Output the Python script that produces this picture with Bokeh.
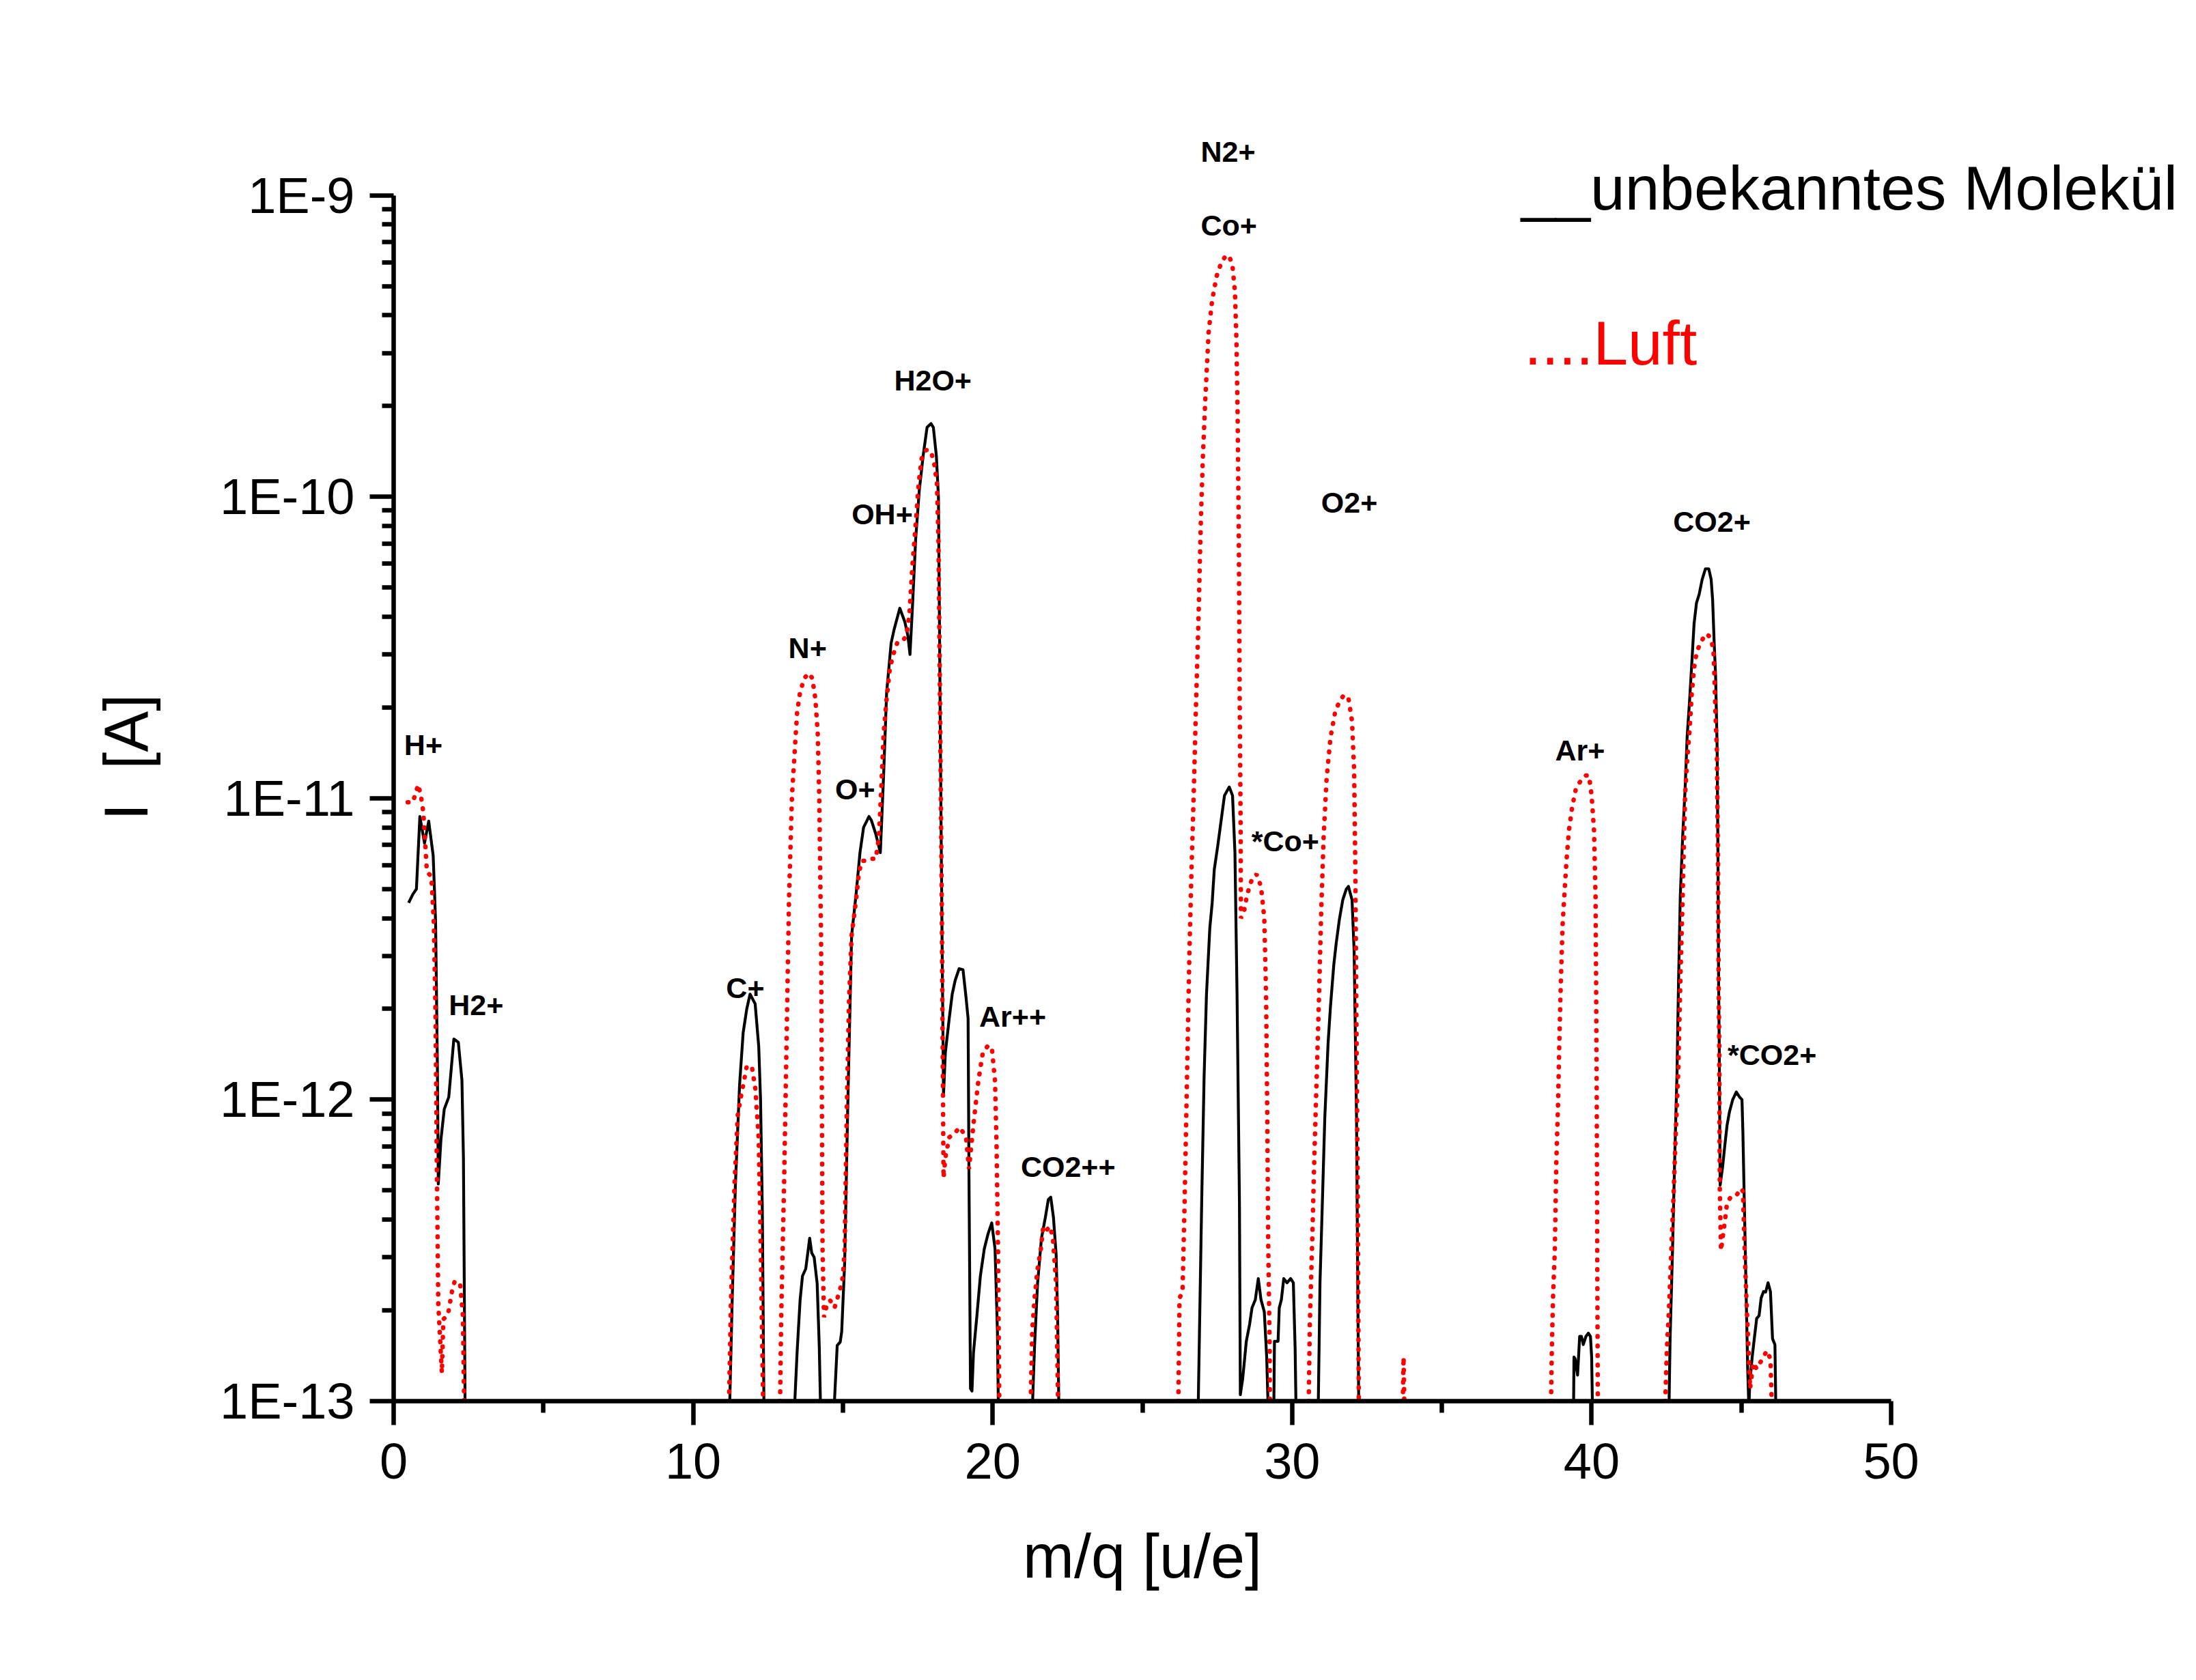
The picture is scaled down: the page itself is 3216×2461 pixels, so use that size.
import math
from bokeh.plotting import figure
from bokeh.models import Range1d, FixedTicker, CustomJSTickFormatter, Label, LinearAxis, LogAxis
from bokeh.embed import file_html
from bokeh.resources import INLINE

NAN = float("nan")

# ---- series: unknown molecule (black, solid) ----
mol_x = [0.50, 0.64, 0.76, 0.875, 1.03, 1.17, 1.32, 1.40, 1.46, 1.49, 1.58, 1.69, 1.84, 2.01, 2.16, 2.28, 2.33, 2.39, NAN,
         11.20, 11.30, 11.41, 11.55, 11.67, 11.79, 11.90, 12.07, 12.19, 12.25, 12.31, 12.37, NAN,
         13.35, 13.47, 13.57, 13.65, 13.76, 13.89, 13.96, 14.04, 14.14, 14.21, 14.27, NAN,
         14.67, 14.81, 14.91, 14.96, 15.06, 15.16, 15.29, 15.44, 15.57, 15.69, 15.87, 15.95, 16.10, 16.25, 16.36, 16.46,
         16.61, 16.71, 16.90, 17.07, 17.17, 17.24, 17.32, 17.43, 17.55, 17.68, 17.81, 17.94, 18.02, 18.12, 18.19, 18.22,
         18.26, 18.32, 18.36, 18.42, 18.55, 18.65, 18.75, 18.88, 19.01, 19.11, 19.18, 19.21, 19.26, 19.31, 19.36, 19.47,
         19.59, 19.72, 19.85, 19.97, 20.08, 20.16, 20.20, NAN,
         21.30, 21.40, 21.50, 21.63, 21.76, 21.86, 21.94, 22.03, 22.12, 22.17, 22.22, NAN,
         26.85, 26.91, 26.98, 27.06, 27.14, 27.25, 27.33, 27.40, 27.52, 27.63, 27.74, 27.90, 28.01, 28.09, 28.16, 28.24,
         28.27, 28.35, 28.47, 28.58, 28.66, 28.77, 28.87, 28.96, 29.07, 29.15, 29.22, NAN,
         29.38, 29.41, 29.53, 29.57, 29.64, 29.72, 29.83, 29.95, 30.04, 30.10, 30.14, NAN,
         30.86, 30.93, 31.01, 31.09, 31.20, 31.28, 31.39, 31.47, 31.58, 31.69, 31.81, 31.88, 32.00, 32.07, 32.11, 32.15,
         32.19, 32.23, NAN,
         39.39, 39.41, 39.45, 39.53, 39.60, 39.66, 39.72, 39.81, 39.89, 39.96, 40.00, 40.04, NAN,
         42.57, 42.62, 42.70, 42.77, 42.85, 42.90, 42.96, 43.04, 43.12, 43.19, 43.27, 43.34, 43.42, 43.50, 43.59, 43.69,
         43.80, 43.91, 43.99, 44.04, 44.09, 44.14, 44.19, 44.22, 44.24, 44.26, 44.29, 44.37, 44.45, 44.52, 44.60, 44.71,
         44.83, 44.94, 45.02, 45.05, 45.09, 45.13, 45.17, 45.21, 45.25, 45.28, 45.36, 45.43, 45.51, 45.59, 45.66, 45.74,
         45.81, 45.89, 45.97, 46.04, 46.12, 46.16]
mol_y = [4.5e-12, 4.8e-12, 5.0e-12, 8.7e-12, 7.1e-12, 8.4e-12, 6.45e-12, 3.9e-12, 1.3e-12, 5.25e-13, 7.4e-13, 9.3e-13,
         1.02e-12, 1.59e-12, 1.55e-12, 1.16e-12, 6.4e-13, 8e-14, NAN,
         8e-14, 2.1e-13, 5.2e-13, 1.12e-12, 1.67e-12, 2.0e-12, 2.24e-12, 2.08e-12, 1.5e-12, 1.0e-12, 4.3e-13, 8e-14, NAN,
         8e-14, 1.45e-13, 2.16e-13, 2.6e-13, 2.75e-13, 3.47e-13, 3.1e-13, 3.0e-13, 2.46e-13, 1.53e-13, 8e-14, NAN,
         8e-14, 1.53e-13, 1.57e-13, 1.7e-13, 2.9e-13, 9.3e-13, 3.5e-12, 4.8e-12, 6.6e-12, 8.0e-12, 8.7e-12, 8.45e-12,
         7.6e-12, 6.6e-12, 1.2e-11, 2.24e-11, 3.27e-11, 3.63e-11, 4.27e-11, 3.84e-11, 3.46e-11, 3.0e-11, 4.27e-11,
         7.25e-11, 1.05e-10, 1.37e-10, 1.7e-10, 1.75e-10, 1.7e-10, 1.37e-10, 1.0e-10, 4.3e-11, 1.33e-11, 2.7e-12,
         1.04e-12, 1.43e-12, 1.86e-12, 2.24e-12, 2.49e-12, 2.72e-12, 2.7e-12, 2.19e-12, 1.86e-12, 5.5e-13, 1.1e-13,
         1.08e-13, 1.45e-13, 1.9e-13, 2.6e-13, 3.2e-13, 3.6e-13, 3.9e-13, 3.2e-13, 1.7e-13, 8e-14, NAN,
         8e-14, 1.53e-13, 2.46e-13, 3.47e-13, 4.07e-13, 4.67e-13, 4.75e-13, 4.07e-13, 3.06e-13, 1.9e-13, 8e-14, NAN,
         8e-14, 1.8e-13, 4.6e-13, 1.19e-12, 2.24e-12, 3.7e-12, 4.5e-12, 5.8e-12, 7.0e-12, 8.45e-12, 1.02e-11, 1.09e-11,
         1.02e-11, 6.6e-12, 2.24e-12, 4.6e-13, 1.05e-13, 1.19e-13, 1.58e-13, 1.8e-13, 2.04e-13, 2.17e-13, 2.55e-13,
         2.17e-13, 1.98e-13, 1.4e-13, 8e-14, NAN,
         8e-14, 1.58e-13, 1.58e-13, 2.04e-13, 2.17e-13, 2.55e-13, 2.47e-13, 2.55e-13, 2.47e-13, 1.49e-13, 8e-14, NAN,
         8e-14, 2.47e-13, 4.6e-13, 8.7e-13, 1.54e-12, 2.04e-12, 2.8e-12, 3.3e-12, 3.98e-12, 4.6e-12, 5.0e-12, 5.1e-12,
         4.6e-12, 3.1e-12, 1.64e-12, 8.7e-13, 2.47e-13, 8e-14, NAN,
         8e-14, 1.4e-13, 1.38e-13, 1.22e-13, 1.64e-13, 1.64e-13, 1.54e-13, 1.64e-13, 1.68e-13, 1.64e-13, 1.4e-13, 8e-14, NAN,
         8e-14, 1.61e-13, 3.16e-13, 6.2e-13, 1.22e-12, 2.42e-12, 4.75e-12, 7.5e-12, 1.07e-11, 1.61e-11, 2.11e-11,
         2.76e-11, 3.79e-11, 4.44e-11, 4.75e-11, 5.32e-11, 5.77e-11, 5.77e-11, 5.32e-11, 4.54e-11, 3.31e-11, 2.52e-11,
         1.47e-11, 5.96e-12, 2.42e-12, 1.54e-12, 5.2e-13, 5.96e-13, 7.1e-13, 8.2e-13, 9.1e-13, 1.0e-12, 1.06e-12,
         1.02e-12, 1.0e-12, 7.8e-13, 4.97e-13, 3.16e-13, 2.0e-13, 1.28e-13, 9.5e-14, 1.15e-13, 1.4e-13, 1.61e-13,
         1.88e-13, 1.92e-13, 2.2e-13, 2.31e-13, 2.3e-13, 2.47e-13, 2.31e-13, 1.61e-13, 1.54e-13, 8e-14]

# ---- series: air (red, dotted) ----
luft_x = [0.47, 0.64, 0.82, 0.91, 0.99, 1.11, 1.26, 1.34, 1.40, 1.44, 1.49, 1.61, 1.66, 1.81, 1.96, 2.04, 2.22, 2.31, 2.37, NAN,
          11.18, 11.26, 11.38, 11.49, 11.61, 11.79, 11.96, 12.08, 12.19, 12.25, 12.35, NAN,
          12.89, 12.94, 13.04, 13.12, 13.20, 13.30, 13.40, 13.47, 13.57, 13.71, 13.86, 13.98, 14.08, 14.16, 14.21, 14.27,
          14.30, 14.32, 14.37, 14.47, 14.57, 14.72, 14.82, 14.93, 15.00, 15.06, 15.13, 15.20, 15.29, 15.44, 15.54, 15.64,
          15.80, 15.95, 16.10, 16.20, 16.28, 16.36, 16.46, 16.56, 16.66, 16.81, 16.97, 17.12, 17.22, 17.32, 17.43, 17.53,
          17.63, 17.78, 17.94, 18.06, 18.14, 18.19, 18.24, 18.30, 18.33, 18.36, 18.42, 18.55, 18.70, 18.91, 19.11, 19.21,
          19.36, 19.52, 19.67, 19.82, 19.97, 20.08, 20.13, 20.18, 20.23, NAN,
          21.25, 21.32, 21.40, 21.50, 21.61, 21.69, 21.81, 21.91, 22.01, 22.12, 22.20, NAN,
          26.19, 26.24, 26.34, 26.41, 26.49, 26.57, 26.64, 26.72, 26.79, 26.87, 26.95, 27.02, 27.10, 27.21, 27.33, 27.48,
          27.63, 27.78, 27.90, 28.01, 28.09, 28.14, 28.18, 28.22, 28.25, 28.28, 28.29, 28.39, 28.50, 28.66, 28.81, 28.96,
          29.07, 29.13, 29.17, 29.20, 29.25, 29.26, NAN,
          30.54, 30.59, 30.67, 30.74, 30.82, 30.90, 30.97, 31.05, 31.15, 31.28, 31.43, 31.58, 31.73, 31.88, 32.00, 32.07,
          32.11, 32.15, 32.19, 32.23, NAN,
          33.68, 33.72, 33.76, NAN,
          38.63, 38.67, 38.71, 38.77, 38.82, 38.88, 38.92, 38.97, 39.03, 39.10, 39.16, 39.24, 39.35, 39.47, 39.58, 39.70,
          39.81, 39.91, 40.00, 40.08, 40.13, 40.15, 40.17, 40.19, 40.21, NAN,
          42.43, 42.51, 42.58, 42.66, 42.74, 42.81, 42.89, 42.96, 43.04, 43.12, 43.19, 43.27, 43.34, 43.42, 43.50, 43.61,
          43.72, 43.80, 43.91, 44.01, 44.07, 44.10, 44.14, 44.18, 44.22, 44.24, 44.26, 44.28, 44.32, 44.37, 44.45, 44.52,
          44.64, 44.75, 44.86, 44.98, 45.05, 45.09, 45.13, 45.19, 45.24, 45.29, 45.40, 45.51, 45.66, 45.85, 45.97, 46.04]
luft_y = [9.7e-12, 9.7e-12, 1.11e-11, 1.02e-11, 9.0e-12, 5.7e-12, 5.5e-12, 3.9e-12, 1.87e-12, 6.2e-13, 2.1e-13, 1.24e-13,
          1.87e-13, 1.93e-13, 2.35e-13, 2.5e-13, 2.45e-13, 1.93e-13, 8e-14, NAN,
          8e-14, 2.1e-13, 5.2e-13, 8.9e-13, 1.04e-12, 1.29e-12, 1.29e-12, 1.08e-12, 7.4e-13, 3.6e-13, 8e-14, NAN,
          8e-14, 1.9e-13, 5.5e-13, 1.58e-12, 4.6e-12, 1.02e-11, 1.48e-11, 1.92e-11, 2.25e-11, 2.5e-11, 2.6e-11, 2.5e-11,
          2.14e-11, 1.64e-11, 1.02e-11, 3.5e-12, 9.3e-13, 3.2e-13, 1.9e-13, 2.1e-13, 2.16e-13, 2.04e-13, 2.2e-13, 2.4e-13,
          2.6e-13, 3.2e-13, 9.3e-13, 2.07e-12, 3.5e-12, 4.6e-12, 5.7e-12, 6.2e-12, 6.2e-12, 6.3e-12, 6.3e-12, 7.4e-12,
          1.07e-11, 1.64e-11, 2.14e-11, 2.65e-11, 2.95e-11, 3.27e-11, 3.3e-11, 3.46e-11, 4.07e-11, 5.9e-11, 8.1e-11,
          1.11e-10, 1.34e-10, 1.43e-10, 1.42e-10, 1.27e-10, 1.11e-10, 7.3e-11, 2.25e-11, 4.6e-12, 1.58e-12, 5.5e-13,
          6.4e-13, 7.5e-13, 7.7e-13, 8.1e-13, 7.5e-13, 5.9e-13, 8.3e-13, 1.15e-12, 1.43e-12, 1.5e-12, 1.5e-12, 1.15e-12,
          7.1e-13, 3.2e-13, 8e-14, NAN,
          8e-14, 1.7e-13, 2.2e-13, 2.75e-13, 3.2e-13, 3.8e-13, 3.7e-13, 3.8e-13, 3.5e-13, 2.46e-13, 8e-14, NAN,
          8e-14, 2.2e-13, 2.3e-13, 4.6e-13, 1.19e-12, 3.1e-12, 5.8e-12, 1.09e-11, 2.04e-11, 3.84e-11, 8.2e-11, 1.36e-10,
          2.1e-10, 3.5e-10, 4.5e-10, 5.4e-10, 5.97e-10, 6.3e-10, 6.3e-10, 5.8e-10, 4.8e-10, 3.3e-10, 1.86e-10, 7.2e-11,
          2.04e-11, 7.9e-12, 4.0e-12, 4.2e-12, 4.8e-12, 5.4e-12, 5.6e-12, 5.1e-12, 4.0e-12, 2.24e-12, 8.7e-13, 3.4e-13,
          1.49e-13, 8e-14, NAN,
          8e-14, 1.8e-13, 3.4e-13, 6.4e-13, 1.19e-12, 2.24e-12, 4.2e-12, 7.4e-12, 1.16e-11, 1.59e-11, 1.92e-11, 2.1e-11,
          2.2e-11, 2.15e-11, 1.8e-11, 1.23e-11, 5.8e-12, 1.64e-12, 4.6e-13, 8e-14, NAN,
          8e-14, 1.4e-13, 8e-14, NAN,
          8e-14, 1.47e-13, 2.2e-13, 3.16e-13, 6.2e-13, 9.8e-13, 1.54e-12, 2.42e-12, 3.8e-12, 4.97e-12, 6.2e-12, 7.8e-12,
          9.35e-12, 1.07e-11, 1.12e-11, 1.17e-11, 1.19e-11, 1.19e-11, 1.02e-11, 7.8e-12, 4.75e-12, 2.42e-12, 9.8e-13,
          2.5e-13, 8e-14, NAN,
          8e-14, 1.47e-13, 2.0e-13, 3.16e-13, 4.97e-13, 7.8e-13, 1.22e-12, 2.42e-12, 4.75e-12, 1.02e-11, 1.34e-11,
          1.68e-11, 2.2e-11, 2.7e-11, 3.03e-11, 3.24e-11, 3.39e-11, 3.51e-11, 3.46e-11, 3.31e-11, 3.03e-11, 2.52e-11,
          1.84e-11, 1.47e-11, 5.96e-12, 2.42e-12, 1.54e-12, 4.97e-13, 3.16e-13, 3.46e-13, 3.96e-13, 4.54e-13, 4.75e-13,
          4.75e-13, 4.86e-13, 5.08e-13, 4.97e-13, 3.7e-13, 2.76e-13, 1.92e-13, 1.47e-13, 1.1e-13, 1.34e-13, 1.28e-13,
          1.36e-13, 1.47e-13, 1.38e-13, 8e-14]

# ---- peak annotations (label text and anchor in data space) ----
ion_names = ["H+", "H2+", "C+", "N+", "O+", "OH+", "H2O+", "Ar++", "CO2++",
             "N2+", "Co+", "*Co+", "O2+", "Ar+", "CO2+", "*CO2+"]
ion_x = [0.35, 1.84, 11.10, 13.18, 14.74, 15.29, 16.71, 19.55, 20.94,
         26.95, 26.95, 28.64, 30.97, 38.78, 42.72, 44.54]
ion_log_y = [-10.822, -11.686, -11.629, -10.502, -10.969, -10.056, -9.613, -11.725, -12.221,
             -8.854, -9.100, -11.142, -10.019, -10.841, -10.082, -11.851]

legend_texts = ["__unbekanntes Molekül", "....Luft"]
legend_colors = ["black", "#ff0000"]
legend_x = [37.65, 37.75]
legend_log_y = [-8.976, -9.490]

x_ticks = [0, 10, 20, 30, 40, 50]
x_minor = [5, 15, 25, 35, 45]
y_ticks = [1e-13, 1e-12, 1e-11, 1e-10, 1e-9]
y_minor = [m * 10.0 ** e for e in range(-13, -9) for m in range(2, 10)]
x_title = "m/q [u/e]"
y_title = "I\u00a0\u00a0[A]"

FONT = "Liberation Sans"

# frame is enlarged so that texts beyond the axes are not clipped; the axes keep their bounds
p = figure(width=3200, height=2445,
           x_range=Range1d(0, 59.78), y_range=Range1d(1e-13, 10 ** -8.7425),
           y_axis_type="log", output_backend="svg", toolbar_location=None,
           min_border_left=576, min_border_right=2, min_border_top=172, min_border_bottom=393)
p.xgrid.visible = False
p.ygrid.visible = False
p.outline_line_color = None
p.background_fill_color = "white"
p.border_fill_color = "white"

p.xaxis.ticker = FixedTicker(ticks=x_ticks, minor_ticks=x_minor)
p.yaxis.ticker = FixedTicker(ticks=y_ticks, minor_ticks=y_minor)
p.yaxis.formatter = CustomJSTickFormatter(code="return '1E' + Math.round(Math.log10(tick)).toString();")
p.xaxis.bounds = (0, 50)
p.yaxis.bounds = (1e-13, 1e-9)

for ax in (p.xaxis[0], p.yaxis[0]):
    ax.axis_line_width = 6.5
    ax.axis_line_color = "black"
    ax.major_tick_line_width = 6.5
    ax.minor_tick_line_width = 6.5
    ax.major_tick_in = 0
    ax.minor_tick_in = 0
    ax.major_tick_out = 35
    ax.minor_tick_out = 17
    ax.major_label_text_font = FONT
    ax.major_label_text_font_size = "74px"
    ax.major_label_text_color = "black"

p.xaxis.major_label_standoff = 27
p.yaxis.major_label_standoff = 22

# axis titles, centred on the bounded axes
xt = LinearAxis(ticker=FixedTicker(ticks=[25]),
                formatter=CustomJSTickFormatter(code="return '%s';" % x_title))
yt = LogAxis(ticker=FixedTicker(ticks=[10 ** -10.864]),
             formatter=CustomJSTickFormatter(code="return '%s';" % y_title))
for ax, so in ((xt, 61), (yt, 84)):
    ax.axis_line_color = None
    ax.major_tick_line_color = None
    ax.minor_tick_line_color = None
    ax.major_tick_out = 0
    ax.major_tick_in = 0
    ax.minor_tick_out = 0
    ax.minor_tick_in = 0
    ax.major_label_standoff = so
    ax.major_label_text_font = FONT
    ax.major_label_text_font_size = "90px"
    ax.major_label_text_color = "black"
yt.major_label_orientation = "parallel"
p.add_layout(xt, "below")
p.add_layout(yt, "left")

p.line(mol_x, mol_y, line_color="black", line_width=4.2, line_join="round")
p.line(luft_x, luft_y, line_color="#ff0000", line_width=6.5, line_dash="1 13", line_cap="round")

for name, lx, ly in zip(ion_names, ion_x, ion_log_y):
    p.add_layout(Label(x=lx, y=10.0 ** ly, text=name, text_font=FONT, text_font_style="bold",
                       text_font_size="43px", text_color="black",
                       text_align="left", text_baseline="alphabetic"))

for t, c, lx, ly in zip(legend_texts, legend_colors, legend_x, legend_log_y):
    p.add_layout(Label(x=lx, y=10.0 ** ly, text=t, text_font=FONT, text_font_size="91px",
                       text_color=c, text_align="left", text_baseline="alphabetic"))

open("out.html", "w").write(file_html(p, INLINE))
